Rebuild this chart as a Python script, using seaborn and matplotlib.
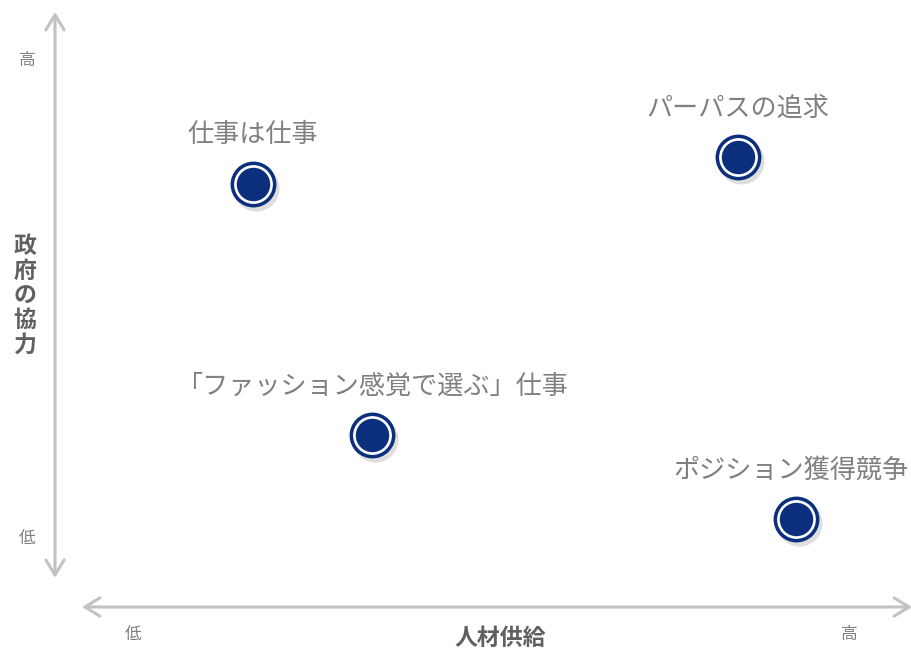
import matplotlib
matplotlib.use("Agg")
import matplotlib.pyplot as plt
import seaborn as sns
import pandas as pd

# ---- data ----
names = ["仕事は仕事", "パーパスの追求", "「ファッション感覚で選ぶ」仕事", "ポジション獲得競争"]
x_vals = [2.31, 7.97, 3.70, 8.65]   # 人材供給
y_vals = [7.11, 7.56, 2.89, 1.48]   # 政府の協力
x_title = "人材供給"
y_title = "政府の協力"
low_label = "低"
high_label = "高"

df = pd.DataFrame({"name": names, "x": x_vals, "y": y_vals})

sns.set_theme(style="white")
plt.rcParams["font.family"] = ["Noto Sans CJK JP", "DejaVu Sans"]

NAVY = "#0b2f7d"
AXIS_GRAY = "#c2c2c2"
TEXT_GRAY = "#808080"
TITLE_GRAY = "#606060"

fig = plt.figure(figsize=(9.12, 6.53), dpi=100)
# axes spanning px x 55..912, y 12..607
ax = fig.add_axes([55 / 912, (653 - 607) / 653, (912 - 55) / 912, (607 - 12) / 653])
ax.set_xlim(0, 10)
ax.set_ylim(0, 10)
ax.axis("off")

# axis arrows
ax.annotate("", xy=(10.0, 0), xytext=(0.315, 0),
            arrowprops=dict(arrowstyle="<->,head_length=0.9,head_width=0.55",
                            color=AXIS_GRAY, lw=2.2, shrinkA=0, shrinkB=0),
            annotation_clip=False)
ax.annotate("", xy=(0, 10.0), xytext=(0, 0.49),
            arrowprops=dict(arrowstyle="<->,head_length=0.9,head_width=0.55",
                            color=AXIS_GRAY, lw=2.2, shrinkA=0, shrinkB=0),
            annotation_clip=False)

# markers: shadow, outer navy ring, white ring, navy fill
sns.scatterplot(data=df, x="x", y="y", ax=ax, s=1100, color="#000000", alpha=0.13,
                linewidth=0, legend=False,
                transform=ax.transData + matplotlib.transforms.ScaledTranslation(3 / 100, -4 / 100, fig.dpi_scale_trans))
sns.scatterplot(data=df, x="x", y="y", ax=ax, s=1090, color=NAVY, linewidth=0, legend=False)
sns.scatterplot(data=df, x="x", y="y", ax=ax, s=780, color="white", linewidth=0, legend=False)
sns.scatterplot(data=df, x="x", y="y", ax=ax, s=580, color=NAVY, linewidth=0, legend=False)

# point labels (nudged left if they would run past the right edge)
fig.canvas.draw()
renderer = fig.canvas.get_renderer()
for n, xv, yv in zip(names, x_vals, y_vals):
    t = ax.annotate(n, (xv, yv), xytext=(0, 49), textcoords="offset pixels",
                    ha="center", va="center", fontsize=18.8, color=TEXT_GRAY)
    bb = t.get_window_extent(renderer)
    overflow = bb.x1 - (fig.bbox.width - 3)
    if overflow > 0:
        t.set_position((-overflow, 49))

# low / high tick labels
tick_kw = dict(fontsize=12, color=TEXT_GRAY, ha="center", va="center")
ax.text(-0.33, (607 - 538) / 59.5, low_label, **tick_kw)
ax.text(-0.33, (607 - 60) / 59.5, high_label, **tick_kw)
ax.text((133 - 55) / 85.7, -0.46, low_label, **tick_kw)
ax.text((849 - 55) / 85.7, -0.46, high_label, **tick_kw)

# axis titles
fig.text(500 / 912, 1 - 638 / 653, x_title, fontsize=16.5, fontweight="bold", color=TITLE_GRAY,
         ha="center", va="center")
fig.text(25 / 912, 1 - 296 / 653, "\n".join(y_title), fontsize=16.5, fontweight="bold", color=TITLE_GRAY,
         ha="center", va="center", linespacing=1.1)

fig.savefig("out.png", dpi=100)
